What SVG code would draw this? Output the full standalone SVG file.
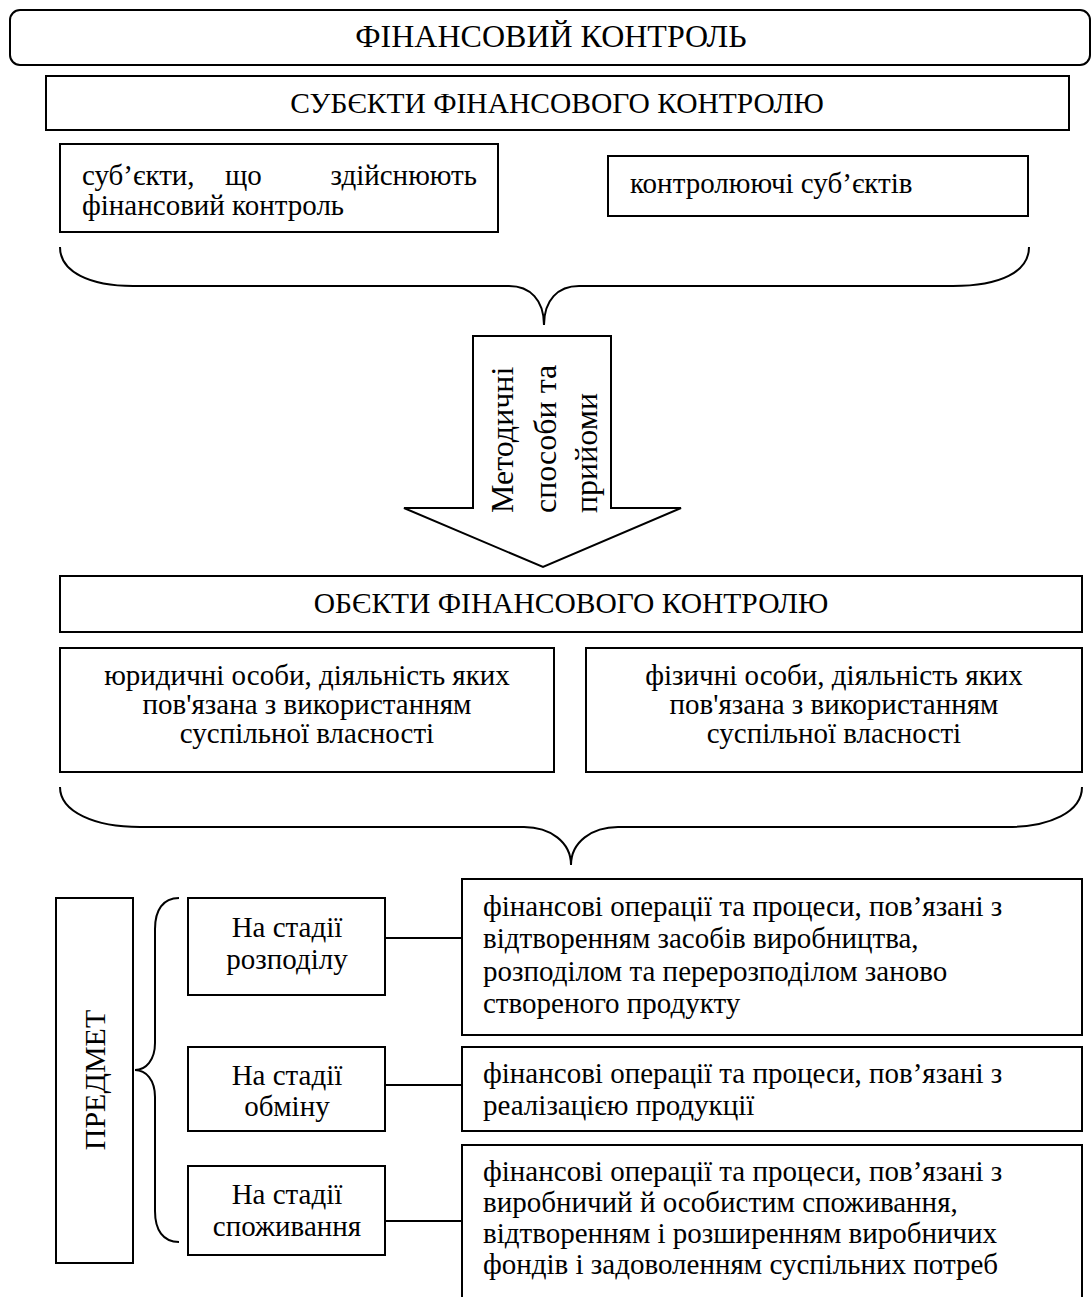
<svg xmlns="http://www.w3.org/2000/svg" width="1091" height="1297" viewBox="0 0 1091 1297">
<style>
.box{fill:#fff;stroke:#000;stroke-width:2}
.ln{fill:none;stroke:#000;stroke-width:2}
text{font-family:"Liberation Serif","Times New Roman",serif;fill:#000}
.t{font-size:32px}
.h{font-size:29.5px}
.b{font-size:29px}
.v{font-size:32px}
.c{text-anchor:middle}
.e{text-anchor:end}
</style>
<rect width="1091" height="1297" fill="#fff"/>
<g id="title">
<rect class="box" x="10" y="10" width="1080" height="55" rx="10"/>
<text class="t c" x="551" y="47">ФІНАНСОВИЙ КОНТРОЛЬ</text>
</g>
<g id="subjects">
<rect class="box" x="46" y="76" width="1023" height="54"/>
<text class="h c" x="557" y="113">СУБЄКТИ ФІНАНСОВОГО КОНТРОЛЮ</text>
</g>
<g id="subj-left">
<rect class="box" x="60" y="144" width="438" height="88"/>
<text class="b" x="82" y="185">суб’єкти,</text>
<text class="b" x="225" y="185">що</text>
<text class="b e" x="477" y="185">здійснюють</text>
<text class="b" x="82" y="215">фінансовий контроль</text>
</g>
<g id="subj-right">
<rect class="box" x="608" y="156" width="420" height="60"/>
<text class="b" x="630" y="193">контролюючі суб’єктів</text>
</g>
<g id="arrow">
<path class="box" d="M473,336 H611 V508 H681 L543,567 L404,508 H473 Z"/>
<text class="v" transform="translate(513,513) rotate(-90)">Методичні</text>
<text class="v" transform="translate(556,513) rotate(-90)">способи та</text>
<text class="v" transform="translate(597,513) rotate(-90)">прийоми</text>
</g>
<g id="objects">
<rect class="box" x="60" y="576" width="1022" height="56"/>
<text class="h c" x="571" y="613">ОБЄКТИ ФІНАНСОВОГО КОНТРОЛЮ</text>
</g>
<g id="obj-left">
<rect class="box" x="60" y="648" width="494" height="124"/>
<text class="b c" x="307" y="685">юридичні особи, діяльність яких</text>
<text class="b c" x="307" y="714">пов'язана з використанням</text>
<text class="b c" x="307" y="743">суспільної власності</text>
</g>
<g id="obj-right">
<rect class="box" x="586" y="648" width="496" height="124"/>
<text class="b c" x="834" y="685">фізичні особи, діяльність яких</text>
<text class="b c" x="834" y="714">пов'язана з використанням</text>
<text class="b c" x="834" y="743">суспільної власності</text>
</g>
<g id="subject-matter">
<rect class="box" x="56" y="898" width="77" height="365"/>
<text class="b c" style="font-size:30px" transform="translate(105,1080) rotate(-90)">ПРЕДМЕТ</text>
</g>
<g id="stage1">
<rect class="box" x="188" y="898" width="197" height="97"/>
<text class="b c" x="287" y="937">На стадії</text>
<text class="b c" x="287" y="969">розподілу</text>
</g>
<g id="stage2">
<rect class="box" x="188" y="1047" width="197" height="84"/>
<text class="b c" x="287" y="1085">На стадії</text>
<text class="b c" x="287" y="1116">обміну</text>
</g>
<g id="stage3">
<rect class="box" x="188" y="1166" width="197" height="89"/>
<text class="b c" x="287" y="1204">На стадії</text>
<text class="b c" x="287" y="1236">споживання</text>
</g>
<g id="desc1">
<rect class="box" x="462" y="879" width="620" height="156"/>
<text class="b" x="483" y="916">фінансові операції та процеси, пов’язані з</text>
<text class="b" x="483" y="948">відтворенням засобів виробництва,</text>
<text class="b" x="483" y="981">розподілом та перерозподілом заново</text>
<text class="b" x="483" y="1013">створеного продукту</text>
</g>
<g id="desc2">
<rect class="box" x="462" y="1047" width="620" height="84"/>
<text class="b" x="483" y="1083">фінансові операції та процеси, пов’язані з</text>
<text class="b" x="483" y="1115">реалізацією продукції</text>
</g>
<g id="desc3">
<rect class="box" x="462" y="1145" width="620" height="160"/>
<text class="b" x="483" y="1181">фінансові операції та процеси, пов’язані з</text>
<text class="b" x="483" y="1212">виробничий й особистим споживання,</text>
<text class="b" x="483" y="1243">відтворенням і розширенням виробничих</text>
<text class="b" x="483" y="1274">фондів і задоволенням суспільних потреб</text>
</g>
<g id="connectors">
<path class="ln" d="M60,247 C60,272 90,286 133,286 H509 C530,286 544,300 544,325 C544,300 558,286 579,286 H953 C1000,286 1029,272 1029,247"/>
<path class="ln" d="M60,787 C60,812 95,827 140,827 H524 C550,827 571,842 571,865 C571,842 592,827 618,827 H1007 C1050,827 1082,812 1082,787"/>
<path class="ln" d="M179,898 C163,898 155,910 155,929 V1043 C155,1060 146,1070 135,1070 C146,1070 155,1080 155,1097 V1211 C155,1230 163,1242 179,1242"/>
<path class="ln" d="M385,938 H462 M385,1085 H462 M385,1221 H462"/>
</g>
</svg>
